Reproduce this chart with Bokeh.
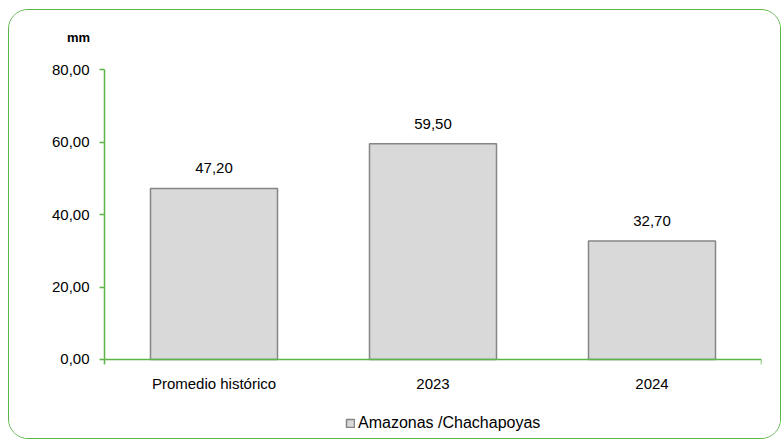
from bokeh.plotting import figure
from bokeh.models import (ColumnDataSource, Range1d, FixedTicker, CustomJSTickFormatter,
                          LabelSet, Label, Legend, LegendItem)
from bokeh.core.properties import value
from bokeh.embed import file_html
from bokeh.resources import INLINE

categories = ["Promedio histórico", "2023", "2024"]
values = [47.20, 59.50, 32.70]
series_name = "Amazonas /Chachapoyas"
unit_label = "mm"
y_ticks = [0, 20, 40, 60, 80]

GREEN = "#5cb548"
FONT = "Liberation Sans"
FS = "15px"

n = len(categories)
xs = [i + 0.5 for i in range(n)]
src = ColumnDataSource(dict(
    x=xs, top=values,
    lbl=[f"{v:.2f}".replace(".", ",") for v in values],
))

p = figure(width=773, height=430, output_backend="svg", toolbar_location=None,
           x_range=Range1d(-0.4338, n), y_range=Range1d(-20.14, 96.28),
           min_border_left=0, min_border_right=21, min_border_top=0, min_border_bottom=8)
p.styles = {"border": f"1px solid {GREEN}", "border-radius": "20px", "overflow": "hidden",
            "margin-left": "8px", "margin-top": "9px"}
p.outline_line_color = None
p.xgrid.grid_line_color = None
p.ygrid.grid_line_color = None
p.background_fill_color = "white"
p.border_fill_color = "white"

r = p.vbar(x="x", top="top", width=0.58, bottom=0, source=src,
           fill_color="#d9d9d9", line_color="#858585", line_width=1.5)

# category-axis baseline spanning the categories only
p.segment(x0=[0], y0=[0], x1=[n], y1=[0], line_color=GREEN, line_width=1.5)

p.xaxis.fixed_location = 0
p.xaxis.bounds = (0, n)
p.xaxis.ticker = FixedTicker(ticks=xs, minor_ticks=[0, n])
p.xaxis.formatter = CustomJSTickFormatter(args=dict(labels=categories),
                                          code="return labels[Math.floor(tick)];")
p.xaxis.axis_line_color = None
p.xaxis.major_tick_line_color = None
p.xaxis.minor_tick_line_color = GREEN
p.xaxis.minor_tick_line_width = 1.5
p.xaxis.minor_tick_out = 5
p.xaxis.minor_tick_in = 0
p.xaxis.major_label_text_font = FONT
p.xaxis.major_label_text_font_size = FS
p.xaxis.major_label_text_color = "#000000"
p.xaxis.major_label_standoff = 10

p.yaxis.fixed_location = 0
p.yaxis.bounds = (0, 80)
p.yaxis.ticker = FixedTicker(ticks=y_ticks)
p.yaxis.formatter = CustomJSTickFormatter(code="return tick.toFixed(2).replace('.', ',');")
p.yaxis.axis_line_color = GREEN
p.yaxis.axis_line_width = 1.5
p.yaxis.major_tick_line_color = GREEN
p.yaxis.major_tick_line_width = 1.5
p.yaxis.major_tick_out = 5
p.yaxis.major_tick_in = 0
p.yaxis.minor_tick_line_color = None
p.yaxis.major_label_text_font = FONT
p.yaxis.major_label_text_font_size = FS
p.yaxis.major_label_text_color = "#000000"
p.yaxis.major_label_standoff = 10

labels = LabelSet(x="x", y="top", text="lbl", source=src, text_align="center",
                  text_baseline="bottom", y_offset=15, text_font=value(FONT),
                  text_font_size=value(FS), text_color="#000000")
p.add_layout(labels)

p.add_layout(Label(x=-0.119, y=88.8, text=unit_label, text_align="center",
                   text_baseline="middle", text_font=FONT, text_font_style="bold",
                   text_font_size="13px", text_color="#000000"))

legend = Legend(items=[LegendItem(label=series_name, renderers=[r])],
                location=(336, 0), orientation="horizontal",
                background_fill_alpha=0, border_line_color=None,
                glyph_width=10, glyph_height=10, label_standoff=3, padding=0, margin=0,
                label_text_font=FONT, label_text_font_size="16px", label_text_color="#000000")
p.add_layout(legend, "center")

open("out.html", "w").write(file_html(p, INLINE))
